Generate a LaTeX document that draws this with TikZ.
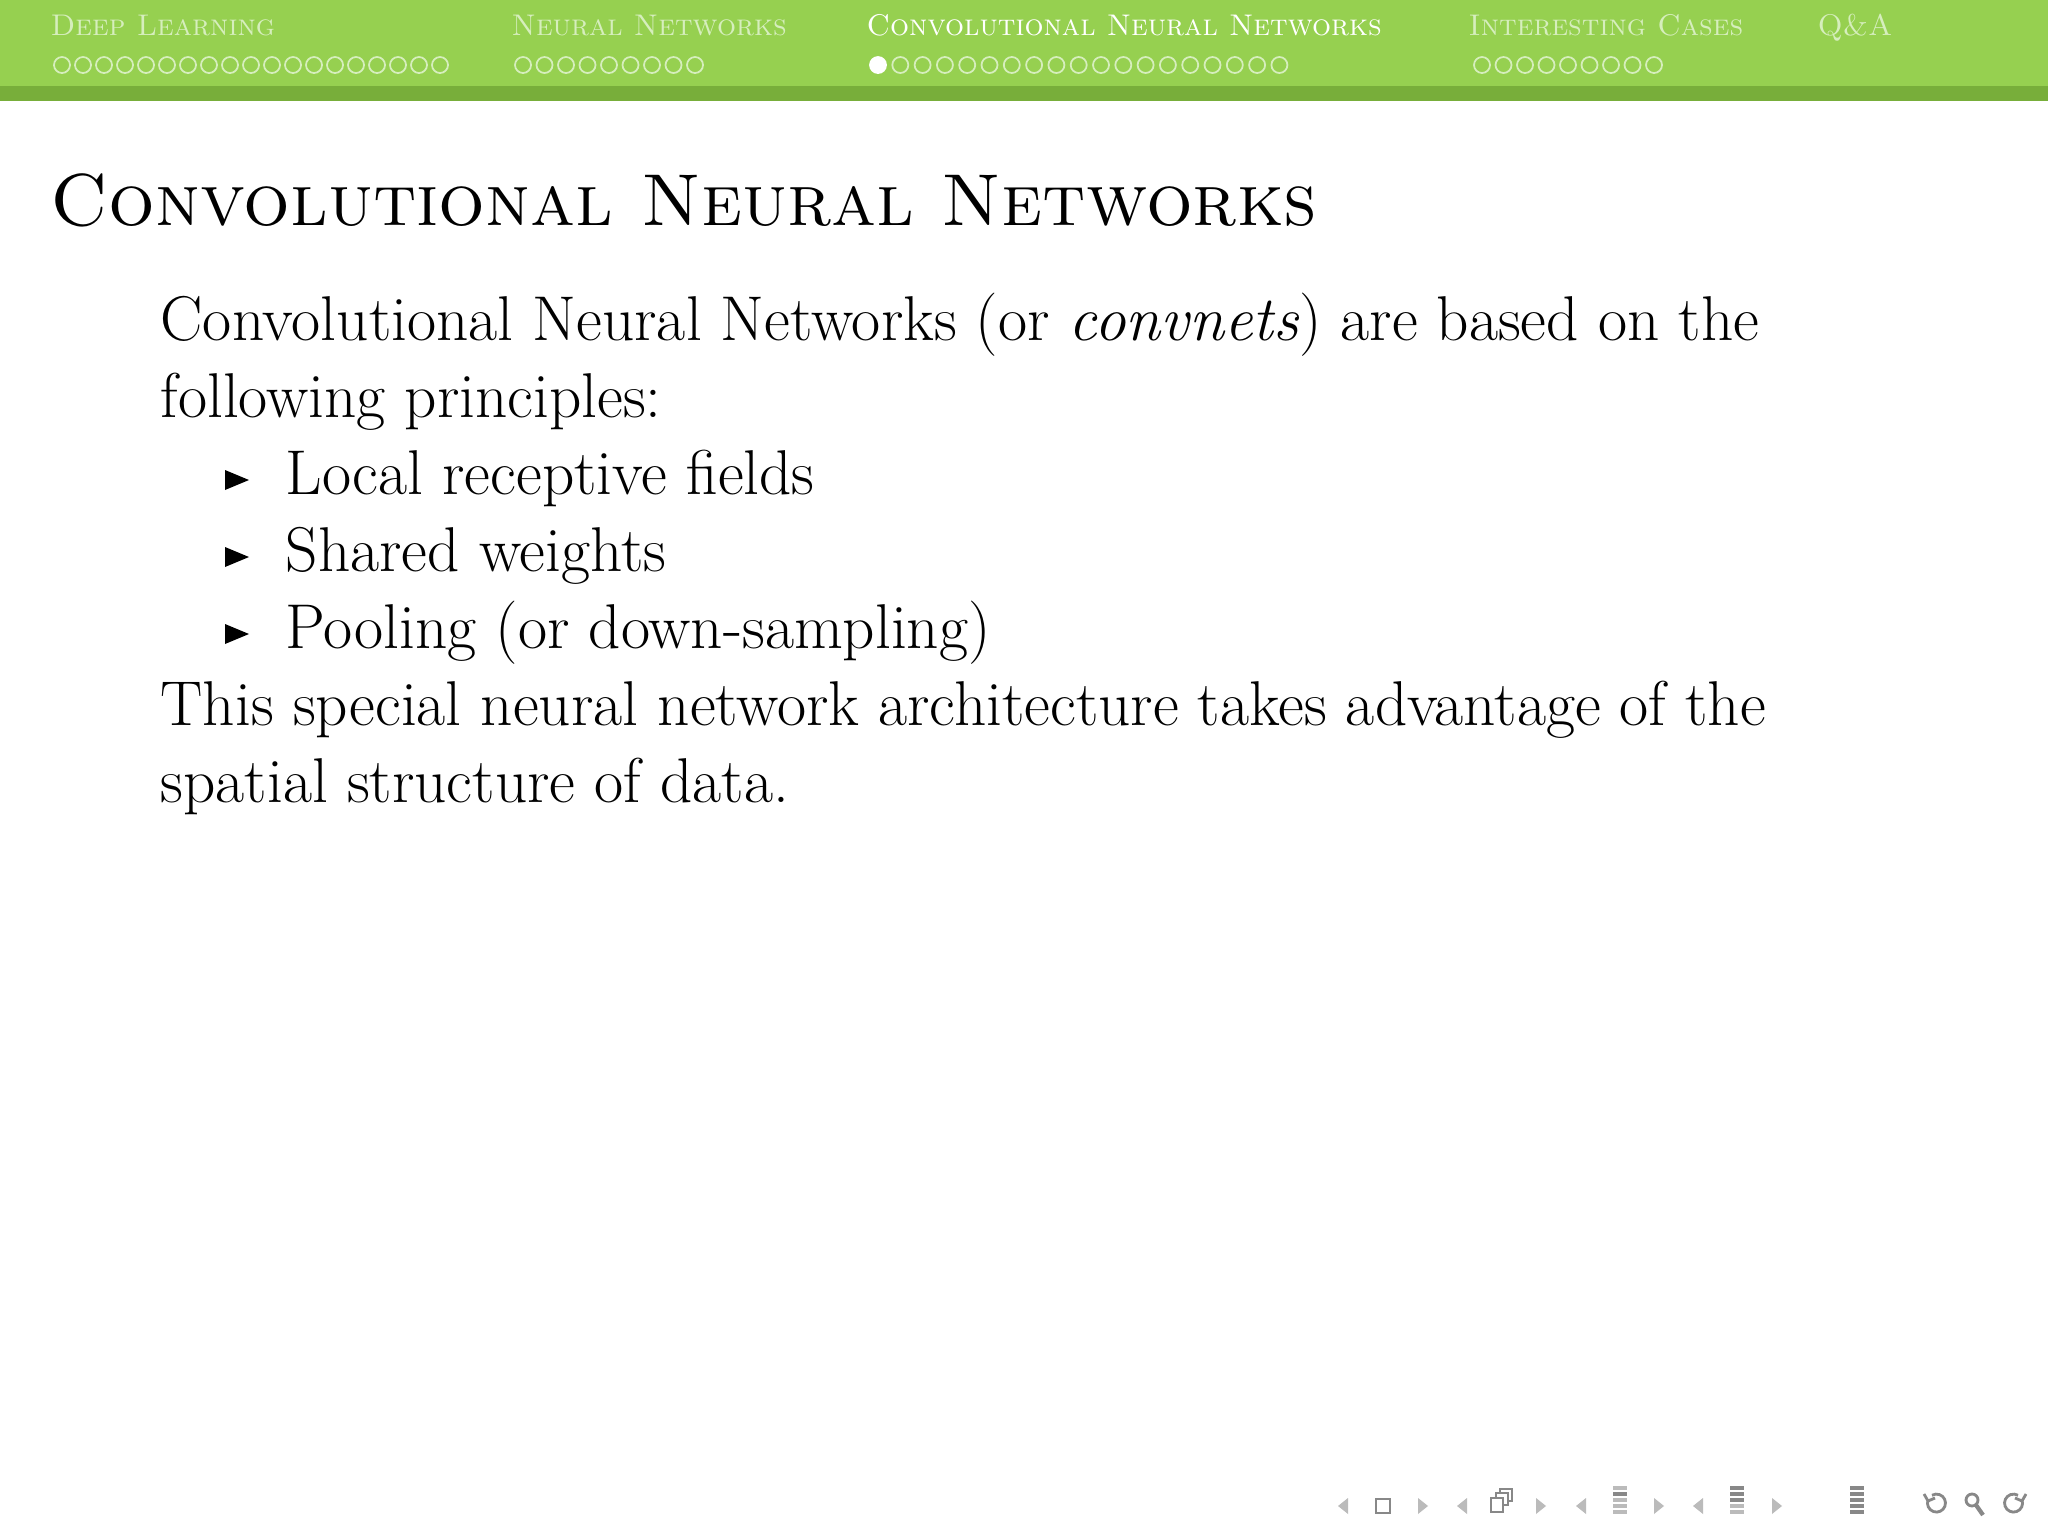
\documentclass[tikz,border=0pt]{standalone}
\definecolor{barlight}{HTML}{96D050}
\definecolor{bardark}{HTML}{78AE3A}
\definecolor{inact}{HTML}{D6EEBD}
\definecolor{navg}{HTML}{BBBBBB}
\definecolor{navd}{HTML}{888888}
\tikzset{
  sec/.style={anchor=base west,inner sep=0,font=\fontsize{8.5}{10}\selectfont\scshape},
  dot/.style={circle,draw=inact,line width=0.5pt,minimum size=0.16cm,inner sep=0},
  body/.style={anchor=base west,inner sep=0,font=\fontsize{18}{21}\selectfont},
}
\begin{document}
\begin{tikzpicture}[x=0.01cm,y=-0.01cm]
\useasboundingbox (0,0) rectangle (2048,1536);
\fill[white] (0,0) rectangle (2048,1536);
\fill[barlight] (0,0) rectangle (2048,86);
\fill[bardark] (0,86) rectangle (2048,101);
% sections
\node[sec,text=inact] (s1) at (50,35) {Deep Learning};
\node[sec,text=inact] (s2) at (511,35) {Neural Networks};
\node[sec,text=white] (s3) at (866,35) {Convolutional Neural Networks};
\node[sec,text=inact] (s4) at (1468,35) {Interesting Cases};
\node[sec,text=inact] (s5) at (1817,35) {Q\&A};
\foreach \i in {0,...,18} \node[dot] (da\i) at (62+21*\i,65) {};
\foreach \i in {0,...,8} \node[dot] (db\i) at (523+21.5*\i,65) {};
\node[dot,fill=white,draw=white] (dc0) at (878,65) {};
\foreach \i in {1,...,18} \node[dot] (dc\i) at (878+22.3*\i,65) {};
\foreach \i in {0,...,8} \node[dot] (dd\i) at (1482+21.5*\i,65) {};
% title
\node[anchor=base west,inner sep=0,font=\fontsize{20.9}{24}\selectfont\scshape] (title) at (50,225) {Convolutional Neural Networks};
% body
\node[body] (l1) at (160,340) {Convolutional Neural Networks (or \textit{convnets}) are based on the};
\node[body] (l2) at (160,417) {following principles:};
\foreach \y/\t/\n in {494/Local receptive fields/i1,571/Shared weights/i2,648/Pooling (or down-sampling)/i3}{
  \fill (225,\y-24) -- (249,\y-14) -- (225,\y-4) -- cycle;
  \node[body] (\n) at (285,\y) {\t};
}
\node[body] (l3) at (160,725) {This special neural network architecture takes advantage of the};
\node[body] (l4) at (160,802) {spatial structure of data.};
% navigation symbols
\begin{scope}[yshift=0.18cm]
\def\la#1{\fill[navg] (#1+5,1516) -- (#1-5,1524) -- (#1+5,1532) -- cycle;}
\def\ra#1{\fill[navg] (#1-5,1516) -- (#1+5,1524) -- (#1-5,1532) -- cycle;}
\la{1343}\draw[navd,line width=0.8pt] (1376,1517) rectangle (1390,1531);\ra{1423}
\la{1462}\draw[navd,line width=0.8pt,fill=white] (1500,1507) rectangle (1512,1519);
\draw[navd,line width=0.8pt,fill=white] (1496,1511) rectangle (1508,1523);
\draw[navd,line width=0.8pt,fill=white] (1491,1516) rectangle (1503,1530);\ra{1541}
\la{1581}\foreach \k/\c in {0/navg,1/navd,2/navg,3/navg,4/navg}{\draw[\c,line width=0.9pt] (1613,1506+\k*6) -- (1627,1506+\k*6);}\ra{1659}
\la{1698}\foreach \k/\c in {0/navd,1/navd,2/navd,3/navg,4/navg}{\draw[\c,line width=0.9pt] (1730,1506+\k*6) -- (1744,1506+\k*6);}\ra{1777}
\foreach \k in {0,...,4}{\draw[navd,line width=0.9pt] (1850,1506+\k*6) -- (1864,1506+\k*6);}
\draw[navd,line width=0.8pt] (1928,1518) arc (200:-120:9);
\draw[navd,line width=0.8pt] (1924,1512) -- (1928,1519) -- (1935,1516);
\draw[navd,line width=0.8pt] (1972,1518) circle (6);
\draw[navd,line width=1.2pt] (1976,1523) -- (1983,1533);
\draw[navd,line width=0.8pt] (2022,1518) arc (-20:300:9);
\draw[navd,line width=0.8pt] (2026,1512) -- (2022,1519) -- (2015,1516);
\end{scope}
\end{tikzpicture}
\end{document}
